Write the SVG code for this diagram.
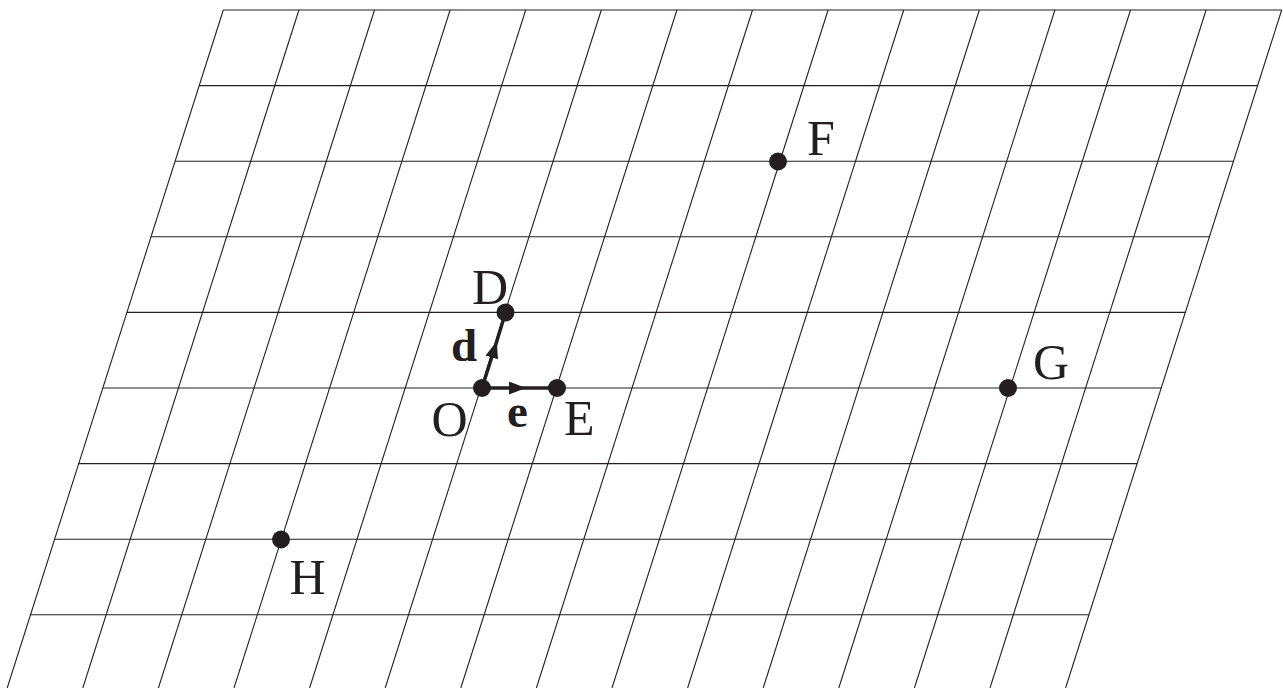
<svg xmlns="http://www.w3.org/2000/svg" width="1283" height="688" viewBox="0 0 1283 688">
<style>
.grid line{stroke:#231f20;stroke-width:1.1;fill:none}
.dot{fill:#231f20}
.lbl{font-family:"Liberation Serif","Times New Roman",serif;font-size:50px;fill:#231f20}
.vlbl{font-family:"Liberation Serif","Times New Roman",serif;font-size:47px;font-weight:bold;fill:#231f20}
.vec{stroke:#231f20;stroke-width:3.5;fill:none;marker-mid:url(#ah)}
</style>
<defs>
<marker id="ah" viewBox="0 0 17 13" refX="17" refY="6.5" markerWidth="17" markerHeight="13" markerUnits="userSpaceOnUse" orient="auto">
<path d="M0,0 L17,6.5 L0,13 z" fill="#231f20"/>
</marker>
</defs>
<rect width="1283" height="688" fill="#fff"/>
<g id="grid" class="grid">
<line x1="223.3" y1="10" x2="1281.7" y2="10"/>
<line x1="199.2" y1="85.6" x2="1257.6" y2="85.6"/>
<line x1="175.1" y1="161.2" x2="1233.5" y2="161.2"/>
<line x1="151.0" y1="236.8" x2="1209.4" y2="236.8"/>
<line x1="126.9" y1="312.4" x2="1185.3" y2="312.4"/>
<line x1="102.8" y1="388" x2="1161.2" y2="388"/>
<line x1="78.7" y1="463.6" x2="1137.1" y2="463.6"/>
<line x1="54.6" y1="539.2" x2="1113.0" y2="539.2"/>
<line x1="30.5" y1="614.8" x2="1088.9" y2="614.8"/>
<line x1="223.3" y1="10" x2="7.2" y2="688"/>
<line x1="298.9" y1="10" x2="82.8" y2="688"/>
<line x1="374.5" y1="10" x2="158.4" y2="688"/>
<line x1="450.1" y1="10" x2="234.0" y2="688"/>
<line x1="525.7" y1="10" x2="309.6" y2="688"/>
<line x1="601.3" y1="10" x2="385.2" y2="688"/>
<line x1="676.9" y1="10" x2="460.8" y2="688"/>
<line x1="752.5" y1="10" x2="536.4" y2="688"/>
<line x1="828.1" y1="10" x2="612.0" y2="688"/>
<line x1="903.7" y1="10" x2="687.6" y2="688"/>
<line x1="979.3" y1="10" x2="763.2" y2="688"/>
<line x1="1054.9" y1="10" x2="838.8" y2="688"/>
<line x1="1130.5" y1="10" x2="914.4" y2="688"/>
<line x1="1206.1" y1="10" x2="990.0" y2="688"/>
<line x1="1281.7" y1="10" x2="1065.6" y2="688"/>
</g>
<g id="connectors">
<path id="vec-d" class="vec" d="M482,388 L496.8,341.2 L505.5,312.4"/>
<path id="vec-e" class="vec" d="M482,388 L526,388 L557,388"/>
<text class="vlbl" x="451" y="361">d</text>
<text class="vlbl" x="507" y="426.5">e</text>
</g>
<g id="node-O"><circle class="dot" cx="482" cy="388" r="9"/><text class="lbl" x="431.5" y="436">O</text></g>
<g id="node-E"><circle class="dot" cx="557" cy="388" r="9"/><text class="lbl" x="564" y="435">E</text></g>
<g id="node-D"><circle class="dot" cx="505.5" cy="312.4" r="9"/><text class="lbl" x="472" y="304">D</text></g>
<g id="node-F"><circle class="dot" cx="778" cy="161.5" r="9"/><text class="lbl" x="807" y="155">F</text></g>
<g id="node-G"><circle class="dot" cx="1008" cy="388" r="9"/><text class="lbl" x="1033" y="378.5">G</text></g>
<g id="node-H"><circle class="dot" cx="281" cy="539.5" r="9"/><text class="lbl" x="289.5" y="594">H</text></g>
</svg>
